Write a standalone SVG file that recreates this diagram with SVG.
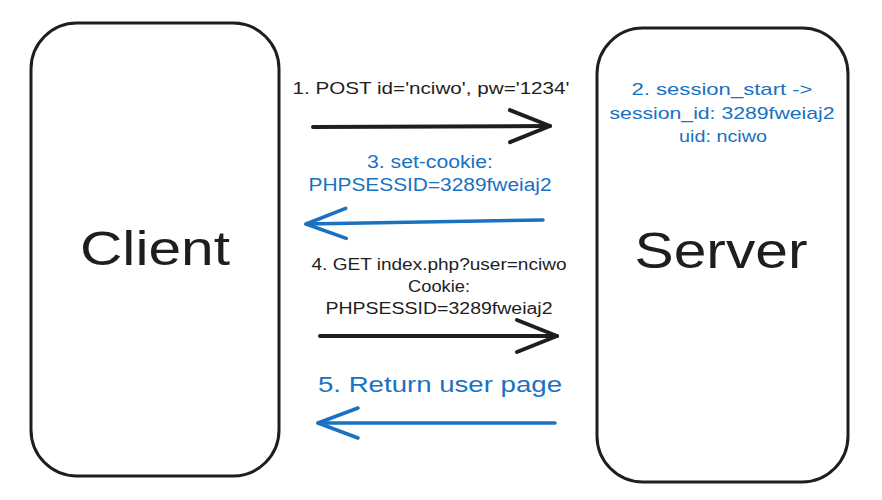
<svg xmlns="http://www.w3.org/2000/svg" width="882" height="500" viewBox="0 0 882 500">
<style>
.box{fill:#fff;stroke:#1e1e1e;stroke-width:3}
.t{font-family:"Liberation Sans","DejaVu Sans",sans-serif;text-anchor:middle}
.k{fill:#1e1e1e}
.b{fill:#1971c2}
.ak{stroke:#1e1e1e;stroke-width:4;fill:none;stroke-linecap:round}
.ab{stroke:#1971c2;stroke-width:3.5;fill:none;stroke-linecap:round}
</style>
<defs>
<marker id="hk" markerUnits="userSpaceOnUse" markerWidth="48" markerHeight="40" viewBox="0 0 48 40" refX="44" refY="20" orient="auto">
<path d="M4,4 L44,20 L4,36" fill="none" stroke="#1e1e1e" stroke-width="4" stroke-linecap="round" stroke-linejoin="round"/>
</marker>
<marker id="hb" markerUnits="userSpaceOnUse" markerWidth="48" markerHeight="40" viewBox="0 0 48 40" refX="44" refY="20" orient="auto">
<path d="M4,5 L44,20 L4,35" fill="none" stroke="#1971c2" stroke-width="3.5" stroke-linecap="round" stroke-linejoin="round"/>
</marker>
</defs>
<rect width="882" height="500" fill="#fff"/>
<g id="client">
<rect class="box" x="31" y="23" width="248" height="453" rx="46"/>
<text class="t k" x="155" y="265" font-size="48" textLength="150" lengthAdjust="spacingAndGlyphs">Client</text>
</g>
<g id="server">
<rect class="box" x="597" y="28" width="251" height="454" rx="46"/>
<text class="t k" x="721" y="268" font-size="50" textLength="173" lengthAdjust="spacingAndGlyphs">Server</text>
<text class="t b" x="722" y="95" font-size="17" textLength="181" lengthAdjust="spacingAndGlyphs">2. session_start -&gt;</text>
<text class="t b" x="722" y="119" font-size="17" textLength="225" lengthAdjust="spacingAndGlyphs">session_id: 3289fweiaj2</text>
<text class="t b" x="723" y="142" font-size="17" textLength="88" lengthAdjust="spacingAndGlyphs">uid: nciwo</text>
</g>
<g id="connectors">
<path class="ak" d="M313,127 L550,126" marker-end="url(#hk)"/>
<path class="ab" d="M543,220 L306,224" marker-end="url(#hb)"/>
<path class="ak" d="M320,336 L557,336" marker-end="url(#hk)"/>
<path class="ab" d="M555,423 L318,423" marker-end="url(#hb)"/>
</g>
<g id="labels">
<text class="t k" x="431" y="94" font-size="17" textLength="277" lengthAdjust="spacingAndGlyphs">1. POST id='nciwo', pw='1234'</text>
<text class="t b" x="430" y="168" font-size="18" textLength="126" lengthAdjust="spacingAndGlyphs">3. set-cookie:</text>
<text class="t b" x="430" y="191" font-size="18" textLength="243" lengthAdjust="spacingAndGlyphs">PHPSESSID=3289fweiaj2</text>
<text class="t k" x="439" y="270" font-size="16" textLength="255" lengthAdjust="spacingAndGlyphs">4. GET index.php?user=nciwo</text>
<text class="t k" x="439" y="292" font-size="16" textLength="62" lengthAdjust="spacingAndGlyphs">Cookie:</text>
<text class="t k" x="439" y="314" font-size="16" textLength="227" lengthAdjust="spacingAndGlyphs">PHPSESSID=3289fweiaj2</text>
<text class="t b" x="440" y="392" font-size="22" textLength="244" lengthAdjust="spacingAndGlyphs">5. Return user page</text>
</g>
</svg>
